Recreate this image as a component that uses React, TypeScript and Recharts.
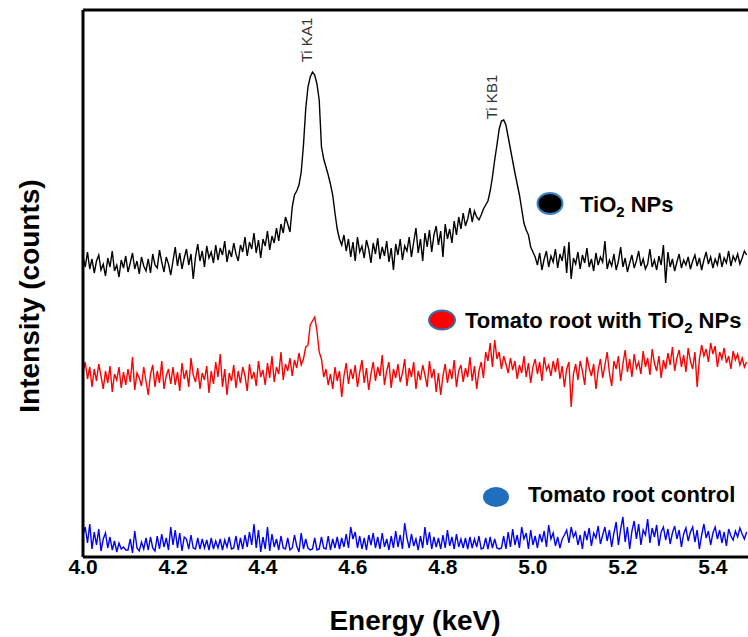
import React from "react";
import { LineChart, Line, XAxis, YAxis, ReferenceLine } from "recharts";

// channel grid of the spectrum (keV)
const ENERGY_START = 4.0;
const ENERGY_STEP = 0.005;

const X_TICKS = [4.0, 4.2, 4.4, 4.6, 4.8, 5.0, 5.2, 5.4];

// intensities, arbitrary units (offset traces)
const TIO2_NPS = [
  300, 290, 305, 288, 298, 284, 296, 302, 287, 293,
  281, 299, 290, 306, 286, 292, 280, 297, 289, 301,
  285, 294, 304, 288, 296, 283, 300, 291, 286, 298,
  284, 303, 292, 289, 307, 295, 285, 300, 293, 282,
  296, 310, 291, 304, 288, 299, 308, 292, 303, 278,
  300, 313, 296, 306, 290, 311, 299, 305, 294, 312,
  297, 309, 302, 316, 295, 307, 300, 314, 303, 296,
  312, 305, 320, 301, 315, 308, 324, 304, 317, 299,
  318, 311, 326, 307, 321, 314, 329, 316, 333, 324,
  340, 333, 325, 350, 362, 366, 372, 385, 412, 448,
  470, 480, 485, 482, 473, 457, 410, 398, 390, 382,
  373, 362, 344, 328, 318,
  312, 322, 306, 318, 300, 315, 296, 320, 305, 311,
  299, 317, 308, 294, 314, 303, 319, 298, 310, 301,
  316, 295, 309, 287, 313, 302, 318, 297, 311, 306,
  320, 300, 315, 329, 304, 318, 296, 324, 310, 327,
  305, 322, 331, 312, 326, 300, 333, 318, 328, 314,
  336, 322, 340, 328, 344, 331, 338, 349, 335, 346,
  340, 337, 342, 348, 352, 356, 366, 380, 397, 412,
  428, 436, 437, 432, 420, 408, 396, 384, 373, 362,
  348, 334, 327, 322, 310, 305,
  300, 292, 304, 287, 298, 306, 290, 301, 295, 308,
  289, 303, 296, 311, 284, 315, 278, 299, 293, 305,
  288, 302, 294, 309, 290, 298, 286, 304, 292, 300,
  295, 316, 288, 297, 291, 303, 287, 296, 310, 290,
  299, 285, 294, 302, 289, 296, 306, 291, 298, 288,
  293, 308, 290, 297, 287, 301, 292, 312, 274, 305,
  290, 298, 286, 295, 303, 289, 297, 292, 300, 288,
  296, 302, 291, 299, 287, 297, 305, 293, 300, 289,
  298, 292, 304, 290, 299, 294, 306, 291, 301, 296,
  303, 293, 299, 306, 302,
];

const ROOT_WITH_TIO2 = [
  185, 195, 178, 190, 170, 188, 176, 193, 181, 168,
  186, 174, 191, 165, 183, 177, 190, 169, 185, 172,
  188, 175, 200, 167, 184, 179, 171, 190, 176, 162,
  183, 192, 170, 186, 174, 196, 168, 181, 188, 173,
  190, 172, 185, 166, 194, 178, 187, 170, 199, 182,
  175, 189, 168, 184, 177, 191, 164, 186, 173, 195,
  180, 203, 170, 188, 162, 184, 176, 192, 169, 186,
  174, 190, 181, 166, 193, 178, 185, 171, 196, 180,
  187, 172, 194, 179, 201, 175, 190, 183, 205, 177,
  193, 186, 199, 181, 197, 189, 204, 192, 198, 210,
  212, 232, 236, 240, 226, 205, 198, 180, 188, 172,
  183, 168, 190, 176, 186, 160, 181, 194, 173, 188,
  178, 192, 170, 185, 197, 174, 189, 167, 183, 195,
  176, 190, 181, 202, 172, 186, 195, 169, 188, 179,
  193, 175, 184, 198, 171, 189, 180, 195, 168, 186,
  177, 192, 182, 170, 196, 179, 188, 165, 184, 162,
  181, 193, 174, 188, 178, 197, 170, 186, 192, 175,
  189, 180, 200, 176, 191, 168, 186, 195, 179, 205,
  196, 214, 190, 217, 198, 205, 188, 201, 193, 184,
  199, 187, 196, 178, 192, 184, 201, 180, 194, 174,
  190, 198, 183, 195, 176, 200, 187, 192, 181, 196,
  185, 199, 178, 191, 170, 188, 195, 150, 183, 193,
  177, 196, 186, 172, 200, 189, 181, 193, 168, 187,
  198, 179, 192, 205, 184, 171, 196, 188, 201, 176,
  193, 207, 185, 198, 180, 203, 189, 195, 183, 206,
  190, 199, 182, 208, 194, 186, 201, 179, 197, 188,
  204, 192, 210, 186, 199, 207, 190, 202, 185, 209,
  196, 188, 205, 170, 198, 212, 201, 208, 195, 214,
  203, 211, 190, 205, 198, 209, 194, 201, 188, 206,
  197, 203, 192, 199, 190, 195,
];

const ROOT_CONTROL = [
  22, 30, 14, 33, 8, 25, 12, 28, 6, 18,
  24, 9, 20, 7, 16, 5, 14, 8, 10, 7,
  7, 18, 4, 26, 9, 6, 15, 8, 19, 7,
  20, 9, 6, 21, 8, 23, 10, 19, 7, 30,
  12, 27, 9, 24, 6, 20, 18, 8, 22, 9,
  8, 19, 8, 18, 9, 17, 7, 19, 8, 16,
  9, 18, 7, 17, 10, 20, 8, 9, 21, 7,
  19, 8, 22, 10, 25, 12, 33, 9, 27, 5,
  20, 8, 30, 6, 23, 10, 18, 7, 21, 9,
  8, 19, 7, 9, 22, 11, 5, 24, 8, 18,
  9, 7, 8, 19, 7, 8, 20, 9, 8, 21,
  7, 18, 9, 20, 8, 19, 10, 23, 9, 30,
  18, 25, 9, 21, 8, 19, 7, 22, 12, 24,
  9, 20, 8, 24, 10, 18, 7, 21, 9, 26,
  10, 22, 8, 34, 19, 9, 23, 11, 18, 7,
  21, 9, 30, 12, 25, 8, 20, 10, 19, 8,
  22, 9, 27, 11, 20, 8, 23, 10, 18, 9,
  19, 8, 20, 9, 18, 10, 21, 8, 9, 19,
  8, 20, 9, 18, 9, 8, 9, 21, 8, 25,
  10, 28, 12, 22, 9, 30, 18, 24, 8, 27,
  12, 21, 9, 23, 15, 26, 10, 32, 18, 24,
  11, 20, 9, 18, 22, 27, 14, 30, 20, 25,
  12, 22, 8, 26, 17, 29, 11, 24, 19, 31,
  13, 22, 30, 16, 27, 10, 24, 35, 12, 28,
  40, 15, 30, 8, 26, 36, 18, 33, 12, 27,
  22, 38, 14, 29, 20, 32, 11, 25, 30, 17,
  28, 13, 24, 31, 18, 27, 10, 23, 29, 16,
  25, 30, 15, 27, 8, 22, 33, 19, 26, 12,
  24, 30, 18, 27, 14, 25, 11, 28, 21, 17,
  26, 20, 29, 23, 18, 25,
];

const data = TIO2_NPS.map((v, i) => ({
  energy: +(ENERGY_START + i * ENERGY_STEP).toFixed(3),
  tio2: v,
  withTio2: ROOT_WITH_TIO2[i],
  control: ROOT_CONTROL[i],
}));

const FONT = "'Liberation Sans', Arial, sans-serif";

function Sub2({ size }: { size: number }) {
  return (
    <>
      <tspan fontSize={size * 0.68} dy={size * 0.22}>
        2
      </tspan>
      <tspan dy={-size * 0.22}> NPs</tspan>
    </>
  );
}

function Annotations() {
  return (
    <svg
      width={748}
      height={637}
      style={{ position: "absolute", left: 0, top: 0, pointerEvents: "none" }}
    >
      <text
        x={39}
        y={296}
        textAnchor="middle"
        transform="rotate(-90 39 296)"
        fontFamily={FONT}
        fontSize={28}
        fontWeight="bold"
        fill="#000"
      >
        Intensity (counts)
      </text>
      <g fontFamily={FONT} fontSize={15} fill="#333">
        <text x={312} y={40} textAnchor="middle" transform="rotate(-90 312 40)">
          Ti KA1
        </text>
        <text x={497} y={97} textAnchor="middle" transform="rotate(-90 497 97)">
          Ti KB1
        </text>
      </g>
      <g fontFamily={FONT} fontSize={22} fontWeight="bold" fill="#000">
        <ellipse cx={550} cy={203.5} rx={12.5} ry={10.5} fill="#000" stroke="#3a86c8" strokeWidth={2} />
        <text x={580} y={212}>
          TiO
          <Sub2 size={22} />
        </text>
        <ellipse cx={442} cy={320} rx={13} ry={9.5} fill="#ff0000" stroke="#3a6ea5" strokeWidth={2} />
        <text x={465} y={328}>
          Tomato root with TiO
          <Sub2 size={22} />
        </text>
        <ellipse cx={496} cy={497} rx={13} ry={10} fill="#1f6fbd" />
        <text x={528} y={502}>Tomato root control</text>
      </g>
    </svg>
  );
}

export default function App() {
  return (
    <div style={{ position: "absolute", left: 0, top: 0, width: 748, height: 637, background: "#fff" }}>
      <LineChart
        width={748}
        height={637}
        data={data}
        margin={{ top: 10, right: 0, bottom: 0, left: 82 }}
      >
        <XAxis
          dataKey="energy"
          type="number"
          domain={[4.0, 5.478]}
          ticks={X_TICKS}
          tickFormatter={(v: number) => v.toFixed(1)}
          allowDataOverflow
          height={80}
          tickLine={false}
          tickSize={0}
          tickMargin={2}
          axisLine={{ stroke: "#000", strokeWidth: 3 }}
          tick={{ fill: "#000", fontSize: 21, fontWeight: "bold", fontFamily: FONT }}
          label={() => (
            <text x={415} y={630} textAnchor="middle" fontFamily={FONT} fontSize={28} fontWeight="bold" fill="#000">
              Energy (keV)
            </text>
          )}
        />
        <YAxis
          width={1}
          domain={[0, 547]}
          allowDataOverflow
          tick={false}
          tickLine={false}
          axisLine={{ stroke: "#000", strokeWidth: 3 }}
        />
        <ReferenceLine y={547} stroke="#000" strokeWidth={3} />
        <Line type="linear" dataKey="tio2" stroke="#000" strokeWidth={1.4} dot={false} isAnimationActive={false} />
        <Line type="linear" dataKey="withTio2" stroke="#ff0000" strokeWidth={1.4} dot={false} isAnimationActive={false} />
        <Line type="linear" dataKey="control" stroke="#0000ff" strokeWidth={1.4} dot={false} isAnimationActive={false} />
      </LineChart>
      <Annotations />
    </div>
  );
}
